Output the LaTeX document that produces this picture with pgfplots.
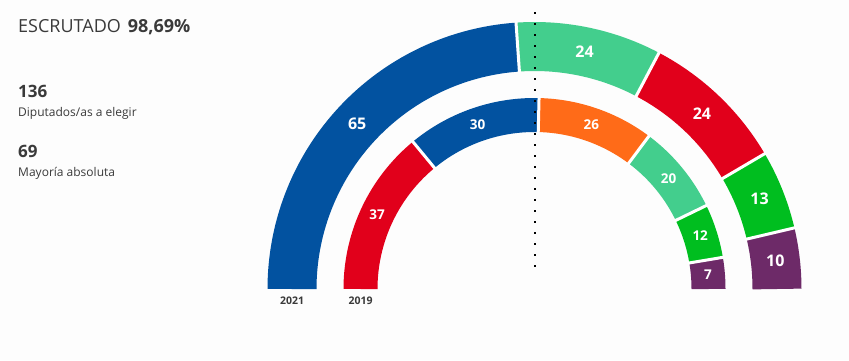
\documentclass[border=0pt]{standalone}
\usepackage{fontspec}
\setmainfont{Open Sans}
\usepackage{pgfplots}
\pgfplotsset{compat=1.18}
\definecolor{bgc}{HTML}{FDFDFD}
\definecolor{txt}{HTML}{3A3A3A}
\definecolor{pp}{HTML}{0252A0}
\definecolor{mm}{HTML}{43CE8D}
\definecolor{psoe}{HTML}{E1001B}
\definecolor{vox}{HTML}{00BE1F}
\definecolor{up}{HTML}{6D2A68}
\definecolor{cs}{HTML}{FF6B18}
\tikzset{
  labO/.style={text=white, font=\fontsize{16}{18}\selectfont\bfseries, inner sep=0pt},
  labI/.style={text=white, font=\fontsize{13.5}{15}\selectfont\bfseries, inner sep=0pt},
  tx/.style={text=txt, anchor=base west, inner sep=0pt},
}
% #1 mid radius, #2 ring width (pt), #3 total seats, #4 seats before, #5 seats, #6 colour, #7 label style
\newcommand{\seg}[7]{%
  \pgfmathsetmacro\aA{180-#4/#3*180}%
  \pgfmathsetmacro\aB{180-(#4+#5)/#3*180}%
  \pgfmathsetmacro\aM{(\aA+\aB)/2}%
  \pgfmathsetmacro\lx{#1*cos(\aM)}%
  \pgfmathsetmacro\ly{#1*sin(\aM)}%
  \edef\doit{\noexpand\addplot[draw=#6, line width=#2pt, domain=\aB:\aA, samples=120, line join=round] ({#1*cos(x)},{#1*sin(x)});}%
  \doit
  \edef\doit{\noexpand\node[#7] at (axis cs:\lx,\ly) {#5};}%
  \doit}
% #1 r1, #2 r2, #3 total, #4 cumulative seats
\newcommand{\sepl}[4]{%
  \pgfmathsetmacro\aS{180-#4/#3*180}%
  \edef\doit{\noexpand\addplot[draw=white, line width=3pt, domain=#1:#2, samples=2] ({x*cos(\aS)},{x*sin(\aS)});}%
  \doit}
\begin{document}
\begin{tikzpicture}
\begin{axis}[
  x=1pt, y=1pt, scale only axis,
  xmin=-534.5, xmax=314.5, ymin=-71, ymax=289,
  axis line style={draw=none}, ticks=none,
  axis background/.style={fill=bgc},
  clip=false,
]
% 2021 (136 seats): PP 65, Mas Madrid 24, PSOE 24, Vox 13, UP 10
\seg{242.5}{49}{136}{0}{65}{pp}{labO}
\seg{242.5}{49}{136}{65}{24}{mm}{labO}
\seg{242.5}{49}{136}{89}{24}{psoe}{labO}
\seg{242.5}{49}{136}{113}{13}{vox}{labO}
\seg{242.5}{49}{136}{126}{10}{up}{labO}
% 2019 (132 seats): PSOE 37, PP 30, Cs 26, Mas Madrid 20, Vox 12, UP 7
\seg{174}{34}{132}{0}{37}{psoe}{labI}
\seg{174}{34}{132}{37}{30}{pp}{labI}
\seg{174}{34}{132}{67}{26}{cs}{labI}
\seg{174}{34}{132}{93}{20}{mm}{labI}
\seg{174}{34}{132}{113}{12}{vox}{labI}
\seg{174}{34}{132}{125}{7}{up}{labI}
% separators
\sepl{216}{269}{136}{65}
\sepl{216}{269}{136}{89}
\sepl{216}{269}{136}{113}
\sepl{216}{269}{136}{126}
\sepl{155}{193}{132}{37}
\sepl{155}{193}{132}{67}
\sepl{155}{193}{132}{93}
\sepl{155}{193}{132}{113}
\sepl{155}{193}{132}{125}
% majority line
\addplot[black, line width=1.5pt, dash pattern=on 2.4pt off 8.6pt] coordinates {(0.5,277) (0.5,20)};
% year labels
\node[text=txt, font=\fontsize{10.5}{12}\selectfont\bfseries, anchor=base, inner sep=0pt] at (axis cs:-242.5,-15) {2021};
\node[text=txt, font=\fontsize{10.5}{12}\selectfont\bfseries, anchor=base, inner sep=0pt] at (axis cs:-174,-15) {2019};
% side texts
\node[tx, font=\fontsize{18}{20}\selectfont] at (axis cs:-516.5,256.7) {ESCRUTADO\hspace{7pt}\textbf{98,69\%}};
\node[tx, font=\fontsize{17}{19}\selectfont\bfseries] at (axis cs:-516.5,191.7) {136};
\node[tx, font=\fontsize{12}{14}\selectfont] at (axis cs:-516.5,173) {Diputados/as a elegir};
\node[tx, font=\fontsize{17}{19}\selectfont\bfseries] at (axis cs:-516.5,132) {69};
\node[tx, font=\fontsize{12}{14}\selectfont] at (axis cs:-516.5,112.3) {Mayoría absoluta};
\end{axis}
\end{tikzpicture}
\end{document}
